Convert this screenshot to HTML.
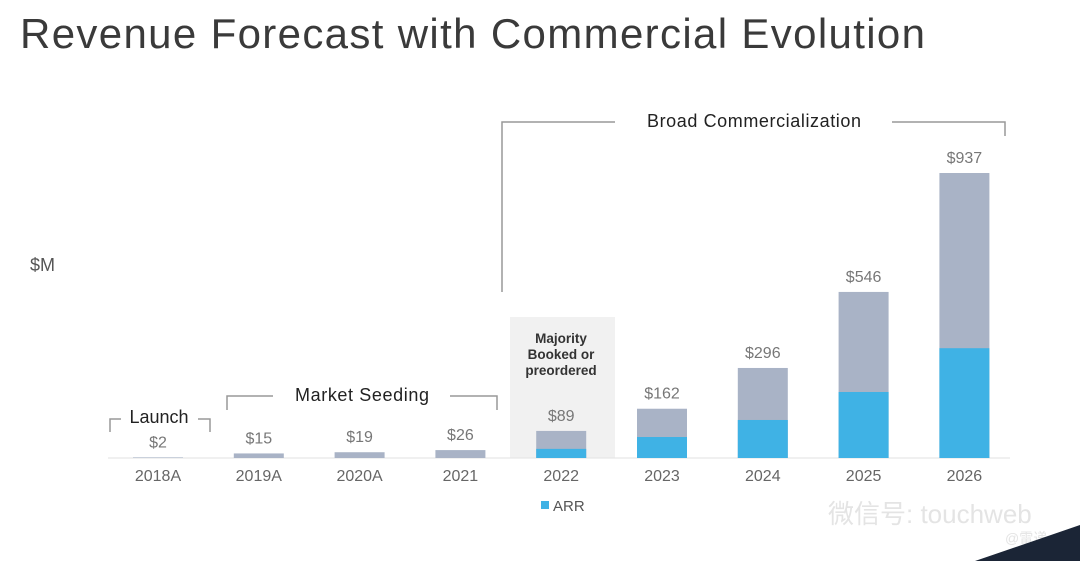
<!DOCTYPE html>
<html><head><meta charset="utf-8"><style>
html,body{margin:0;padding:0;background:#fff;}
svg{display:block;font-family:"Liberation Sans","Noto Sans CJK SC",sans-serif;}
</style></head><body>
<svg id="chart" width="1080" height="561" viewBox="0 0 1080 561">
<text x="20" y="48" font-size="42" fill="#3a3a3a" textLength="905" lengthAdjust="spacing">Revenue Forecast with Commercial Evolution</text>
<text x="30" y="271" font-size="18" fill="#555">$M</text>
<rect x="510" y="317" width="105" height="141" fill="#f1f1f1"/>
<text x="562" y="343" font-size="13.5" font-weight="bold" fill="#333" text-anchor="middle"><tspan x="561" dy="0">Majority</tspan><tspan x="561" dy="16">Booked or</tspan><tspan x="561" dy="16">preordered</tspan></text>
<g fill="none" stroke="#999" stroke-width="1.5">
<path d="M110 432 V419 H121 M198 419 H210 V432"/>
<path d="M227 410 V396 H273 M450 396 H497 V410"/>
<path d="M502 292 V122 H615 M892 122 H1005 V136"/>
</g>
<text x="159" y="423" font-size="18" fill="#222" text-anchor="middle">Launch</text>
<text x="362" y="401" font-size="18" fill="#222" text-anchor="middle" textLength="134" lengthAdjust="spacing">Market Seeding</text>
<text x="754" y="127" font-size="18" fill="#222" text-anchor="middle" textLength="214" lengthAdjust="spacing">Broad Commercialization</text>
<line x1="108" y1="458" x2="1010" y2="458" stroke="#e2e2e2" stroke-width="1"/>
<g id="bars"></g>
<rect x="541" y="501" width="8" height="8" fill="#3fb2e5"/>
<text x="553" y="511" font-size="15" fill="#555">ARR</text>
<text x="828" y="523" font-size="26" fill="#e4e4e4">微信号: touchweb</text>
<text x="1005" y="543" font-size="14" fill="#e4e4e4">@雷递</text>
<polygon points="975,561 1080,525 1080,561" fill="#1b2536"/>
</svg>
<script>
const categories = ["2018A","2019A","2020A","2021","2022","2023","2024","2025","2026"];
const totals = [2,15,19,26,89,162,296,546,937];
const arr = [0,0,0,0,30,69,125,217,361];
const valueLabels = ["$2","$15","$19","$26","$89","$162","$296","$546","$937"];
const base = 458, scale = 285/937;
const x = i => 158 + i*100.8;
const y = v => base - v*scale;
const g = document.getElementById('bars');
const ns = "http://www.w3.org/2000/svg";
categories.forEach((c,i)=>{
  const t = document.createElementNS(ns,'rect');
  t.setAttribute('x', x(i)-25); t.setAttribute('width', 50);
  t.setAttribute('y', y(totals[i])); t.setAttribute('height', base - y(totals[i]));
  t.setAttribute('fill', '#a9b3c6');
  
  
  g.appendChild(t);
  if (arr[i] > 0) {
    const a = document.createElementNS(ns,'rect');
    a.setAttribute('x', x(i)-25); a.setAttribute('width', 50);
    a.setAttribute('y', y(arr[i])); a.setAttribute('height', base - y(arr[i]));
    a.setAttribute('fill', '#3fb2e5');
    
    
    g.appendChild(a);
  }
  const vl = document.createElementNS(ns,'text');
  vl.setAttribute('x', x(i)); vl.setAttribute('y', Math.min(y(totals[i]) - 10, 450));
  vl.setAttribute('text-anchor','middle'); vl.setAttribute('font-size','16'); vl.setAttribute('fill','#777');
  vl.textContent = valueLabels[i];
  
  
  g.appendChild(vl);
  const cl = document.createElementNS(ns,'text');
  cl.setAttribute('x', x(i)); cl.setAttribute('y', 481);
  cl.setAttribute('text-anchor','middle'); cl.setAttribute('font-size','16'); cl.setAttribute('fill','#666');
  cl.textContent = c;
  
  
  g.appendChild(cl);
});
</script>
</body></html>
